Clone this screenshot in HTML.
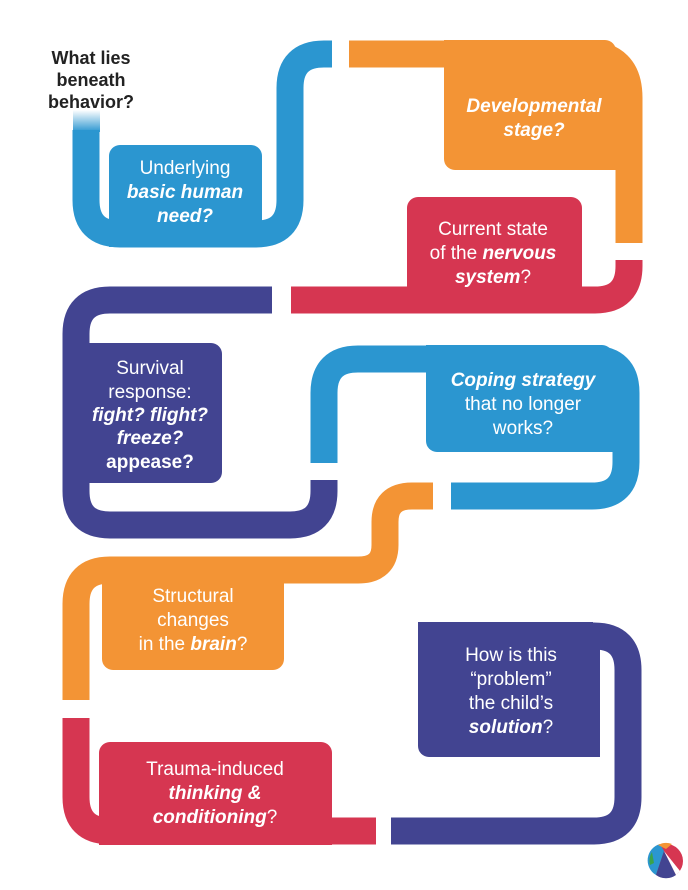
<!DOCTYPE html>
<html><head><style>
html,body{margin:0;padding:0;background:#fff;}
svg{display:block}
text{font-family:"Liberation Sans",sans-serif;fill:#fff;font-size:19px;text-anchor:middle}
.b{font-weight:bold;font-style:italic}
.k{fill:#222;font-weight:bold;font-size:18px}
</style></head><body>
<svg width="688" height="890" viewBox="0 0 688 890" xmlns="http://www.w3.org/2000/svg">
<defs><linearGradient id="fd" x1="0" y1="0" x2="0" y2="1"><stop offset="0" stop-color="#2b96d0" stop-opacity="0"/><stop offset="1" stop-color="#2b96d0"/></linearGradient></defs>
<g fill="none" stroke-width="27">
<path d="M86,130 V200 Q86,234 120,234 H256 Q290,234 290,200 V88 Q290,54 324,54 H332" stroke="#2b96d0"/>
<rect x="73" y="110" width="27" height="22" fill="url(#fd)" stroke="none"/>
<path d="M349,54 H585 Q629,54 629,98 V243" stroke="#f39435"/>
<path d="M629,260 V266 Q629,300 595,300 H291" stroke="#d63651"/>
<path d="M272,300 H110 Q76,300 76,334 V491 Q76,525 110,525 H290 Q324,525 324,491 V480" stroke="#424491"/>
<path d="M324,463 V393 Q324,359 358,359 H592 Q626,359 626,393 V462 Q626,496 592,496 H451" stroke="#2b96d0"/>
<path d="M433,496 H412 Q385,496 385,522 V545 Q385,570 358,570 H110 Q76,570 76,604 V700" stroke="#f39435"/>
<path d="M76,718 V797 Q76,831 110,831 H376" stroke="#d63651"/>
<path d="M391,831 H594 Q628,831 628,797 V670 Q628,636 594,636 H430" stroke="#424491"/>
</g>
<g>
<rect x="109" y="145" width="153" height="102" rx="11" fill="#2b96d0"/>
<rect x="109" y="200" width="153" height="47" fill="#2b96d0"/>
<rect x="444" y="40" width="172" height="130" rx="11" fill="#f39435"/>
<rect x="444" y="40" width="140" height="60" fill="#f39435"/>
<rect x="560" y="95" width="56" height="75" fill="#f39435"/>
<rect x="407" y="197" width="175" height="116" rx="11" fill="#d63651"/>
<rect x="407" y="260" width="175" height="53" fill="#d63651"/>
<rect x="80" y="343" width="142" height="140" rx="11" fill="#424491"/>
<rect x="80" y="343" width="60" height="140" fill="#424491"/>
<rect x="426" y="345" width="187" height="107" rx="11" fill="#2b96d0"/>
<rect x="426" y="345" width="165" height="50" fill="#2b96d0"/>
<rect x="560" y="390" width="53" height="62" fill="#2b96d0"/>
<rect x="418" y="622" width="182" height="135" rx="11" fill="#424491"/>
<rect x="418" y="622" width="175" height="50" fill="#424491"/>
<rect x="560" y="665" width="40" height="92" fill="#424491"/>
<rect x="102" y="557" width="182" height="113" rx="11" fill="#f39435"/>
<rect x="102" y="557" width="182" height="50" fill="#f39435"/>
<rect x="99" y="742" width="233" height="103" rx="11" fill="#d63651"/>
<rect x="99" y="800" width="233" height="45" fill="#d63651"/>
</g>

<text class="k" x="91" y="64">What lies</text>
<text class="k" x="91" y="86">beneath</text>
<text class="k" x="91" y="108">behavior?</text>

<text x="185" y="174">Underlying</text>
<text class="b" x="185" y="198">basic human</text>
<text class="b" x="185" y="222">need?</text>

<text class="b" x="534" y="112">Developmental</text>
<text class="b" x="534" y="136">stage?</text>

<text x="493" y="235">Current state</text>
<text x="493" y="259">of the <tspan class="b">nervous</tspan></text>
<text x="493" y="283"><tspan class="b">system</tspan>?</text>

<text x="150" y="374">Survival</text>
<text x="150" y="398">response:</text>
<text class="b" x="150" y="421">fight? flight?</text>
<text class="b" x="150" y="444">freeze?</text>
<text x="150" y="468" style="font-weight:bold">appease?</text>

<text class="b" x="523" y="386">Coping strategy</text>
<text x="523" y="410">that no longer</text>
<text x="523" y="434">works?</text>

<text x="193" y="602">Structural</text>
<text x="193" y="626">changes</text>
<text x="193" y="650">in the <tspan class="b">brain</tspan>?</text>

<text x="511" y="661">How is this</text>
<text x="511" y="685">“problem”</text>
<text x="511" y="709">the child’s</text>
<text x="511" y="733"><tspan class="b">solution</tspan>?</text>

<text x="215" y="775">Trauma-induced</text>
<text class="b" x="215" y="799">thinking &amp;</text>
<text x="215" y="823"><tspan class="b">conditioning</tspan>?</text>

<g transform="translate(666,861)">
<circle r="17" fill="#d63651"/>
<path d="M-6,-17 A17,17 0 0,0 -10,14 L-2,-10 Z" fill="#2b96d0"/>
<path d="M-2,-10 L10,14 A17,17 0 0,1 -10,14 Z" fill="#424491"/>
<path d="M-2,-10 L10,14 L14,10 Z" fill="#fff"/>
<path d="M-8,-16 A17,17 0 0,1 6,-17 L0,-12 Z" fill="#f39435"/>
<path d="M-14,-9 A17,17 0 0,0 -16,4 L-12,2 Z" fill="#3aa34a"/>
</g>
</svg>
</body></html>
